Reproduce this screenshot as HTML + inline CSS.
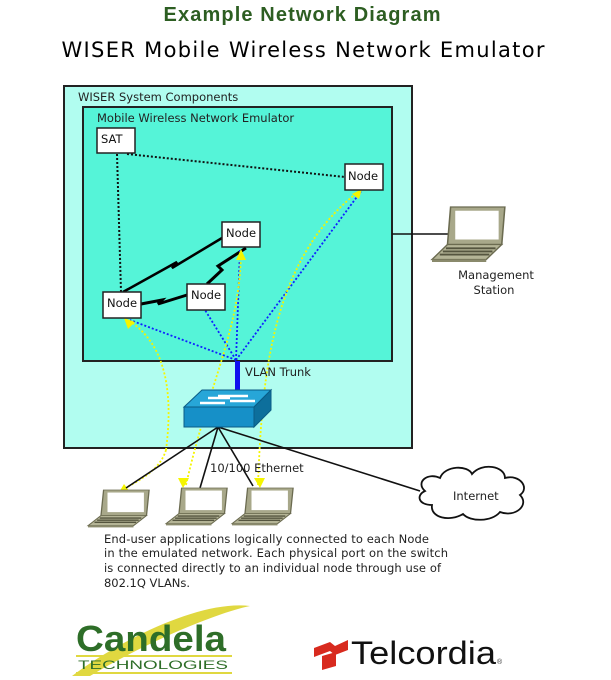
<!DOCTYPE html>
<html><head><meta charset="utf-8"><style>
html,body{margin:0;padding:0;background:#fff;}
svg{display:block;}
</style></head><body>
<svg width="611" height="680" viewBox="0 0 611 680" xmlns="http://www.w3.org/2000/svg">
<defs>
<g id="lap">
  <path d="M12 0 L47 0 L45 30 L10 30 Z" fill="#a8a88a" stroke="#6b6b50" stroke-width="1"/>
  <rect x="15" y="3" width="28" height="23" fill="#fff"/>
  <path d="M10 30 L45 30 L35 42 L0 42 Z" fill="#b4b496" stroke="#6b6b50" stroke-width="1"/>
  <path d="M9 33 L41 33 M7 35.5 L39 35.5 M5 38 L37 38" stroke="#55553f" stroke-width="1.5"/>
  <rect x="0" y="42" width="35" height="2" fill="#8a8a6c"/>
</g>
</defs>
<text x="302" y="21" text-anchor="middle" font-family="Liberation Sans, sans-serif" font-weight="bold" font-size="20" fill="#2d5e22" textLength="277">Example Network Diagram</text>
<text x="303" y="57" text-anchor="middle" font-family="DejaVu Sans, sans-serif" font-size="21" fill="#000" textLength="483">WISER Mobile Wireless Network Emulator</text>

<rect x="64" y="86" width="348" height="362" fill="#b1fdf0" stroke="#222" stroke-width="2"/>
<text x="78" y="101" font-family="DejaVu Sans, sans-serif" font-size="11.5" fill="#222">WISER System Components</text>
<rect x="83" y="107" width="309" height="254" fill="#55f4d8" stroke="#222" stroke-width="2"/>
<text x="97" y="122" font-family="DejaVu Sans, sans-serif" font-size="11.5" fill="#222">Mobile Wireless Network Emulator</text>

<line x1="392" y1="234" x2="452" y2="234" stroke="#111" stroke-width="1.5"/>

<path d="M117 154 L121 292 M127 154 L345 177" stroke="#111" stroke-width="2" stroke-dasharray="2,2" fill="none"/>
<path d="M123 292 L177 262 L172 268 L222 238" stroke="#000" stroke-width="2.5" fill="none"/>
<path d="M141 304 L162 300 L158 304 L187 295" stroke="#000" stroke-width="3" fill="none"/>
<path d="M207 284 L222 270 L218 266 L246 248" stroke="#000" stroke-width="3" fill="none"/>

<g stroke="#1020ff" stroke-width="1.8" stroke-dasharray="2,2" fill="none">
<path d="M236 360 L130 320"/>
<path d="M236 360 L205 310"/>
<path d="M236 360 L240 250"/>
<path d="M236 360 L362 190"/>
</g>
<g stroke="#f5f500" stroke-width="1.8" stroke-dasharray="2,2" fill="none">
<path d="M166 450 C175 380 160 340 128 320"/>
<path d="M186 485 C210 380 240 330 241 252"/>
<path d="M258 485 C262 380 270 260 358 192"/>
<path d="M166 450 C160 470 140 480 122 490"/>
</g>
<g fill="#f5f500">
<path d="M124 318 L135 322 L128 329 Z"/>
<path d="M241 249 L236 260 L246 260 Z"/>
<path d="M362 189 L352 194 L359 199 Z"/>
<path d="M118 494 L124 484 L130 492 Z"/>
<path d="M183 488 L178 478 L189 478 Z"/>
<path d="M260 488 L254 478 L265 478 Z"/>
</g>

<g font-family="DejaVu Sans, sans-serif" font-size="11.5" fill="#111">
<rect x="97" y="128" width="38" height="25" fill="#fff" stroke="#222" stroke-width="1.5"/>
<text x="101" y="143">SAT</text>
<rect x="345" y="164" width="38" height="26" fill="#fff" stroke="#222" stroke-width="1.5"/>
<text x="348" y="180">Node</text>
<rect x="222" y="222" width="38" height="25" fill="#fff" stroke="#222" stroke-width="1.5"/>
<text x="226" y="237">Node</text>
<rect x="187" y="284" width="38" height="26" fill="#fff" stroke="#222" stroke-width="1.5"/>
<text x="191" y="299">Node</text>
<rect x="103" y="292" width="38" height="26" fill="#fff" stroke="#222" stroke-width="1.5"/>
<text x="107" y="307">Node</text>
</g>

<rect x="235" y="361" width="5" height="29" fill="#1010ee"/>
<text x="245" y="376" font-family="DejaVu Sans, sans-serif" font-size="11.5" fill="#222">VLAN Trunk</text>

<g stroke="#111" stroke-width="1.6" fill="none">
<path d="M218 427 L126 488"/>
<path d="M218 427 L200 488"/>
<path d="M218 427 L253 486"/>
<path d="M218 427 L420 491"/>
</g>

<path d="M184 407 L202 390 L271 390 L254 407 Z" fill="#27a6d8" stroke="#0a5c86" stroke-width="1"/>
<rect x="184" y="407" width="70" height="20" fill="#1690c8" stroke="#0a5c86" stroke-width="1"/>
<path d="M254 407 L271 390 L271 410 L254 427 Z" fill="#0d6f9c" stroke="#0a5c86" stroke-width="1"/>
<g stroke="#fff" stroke-width="2.5" fill="none">
<path d="M200 403 L225 403 M218 396 L248 396 M230 401 L255 401 M208 398 L230 398"/>
</g>

<text x="210" y="472" font-family="DejaVu Sans, sans-serif" font-size="11.5" fill="#222">10/100 Ethernet</text>

<path d="M425 491 C415 482 428 472 440 478 C445 465 468 465 472 474 C482 462 505 466 505 478 C520 474 530 488 520 495 C530 505 515 518 500 512 C492 522 470 522 463 514 C450 522 430 518 432 505 C418 505 416 495 425 491 Z" fill="#fff" stroke="#111" stroke-width="1.8"/>
<text x="453" y="500" font-family="DejaVu Sans, sans-serif" font-size="11.5" fill="#222">Internet</text>

<use href="#lap" transform="translate(432,207) scale(1.55,1.25)"/>
<use href="#lap" transform="translate(88,490) scale(1.3,0.85)"/>
<use href="#lap" transform="translate(166,488) scale(1.3,0.85)"/>
<use href="#lap" transform="translate(232,488) scale(1.3,0.85)"/>
<text x="496" y="279" text-anchor="middle" font-family="DejaVu Sans, sans-serif" font-size="11.5" fill="#222">Management</text>
<text x="494" y="294" text-anchor="middle" font-family="DejaVu Sans, sans-serif" font-size="11.5" fill="#222">Station</text>

<g font-family="DejaVu Sans, sans-serif" font-size="11.5" fill="#222">
<text x="104" y="543" textLength="325">End-user applications logically connected to each Node</text>
<text x="104" y="557" textLength="344">in the emulated network.  Each physical port on the switch</text>
<text x="104" y="572" textLength="337">is connected directly to an individual node through use of</text>
<text x="104" y="587" textLength="86">802.1Q VLANs.</text>
</g>

<path d="M72 676 C120 640 200 600 250 606 C220 612 150 640 90 676 Z" fill="#e0d840"/>
<text x="76" y="651" font-family="Liberation Sans, sans-serif" font-weight="bold" font-size="36" fill="#2e6e28" textLength="150" lengthAdjust="spacingAndGlyphs">Candela</text>
<line x1="76" y1="656" x2="232" y2="656" stroke="#e0d840" stroke-width="2"/>
<text x="78" y="669" font-family="Liberation Sans, sans-serif" font-size="12" fill="#2e6e28" textLength="150" lengthAdjust="spacingAndGlyphs">TECHNOLOGIES</text>
<line x1="76" y1="673" x2="232" y2="673" stroke="#e0d840" stroke-width="2"/>

<path d="M314 648 L330 642 L335 646 L348 640 L348 650 L335 655 L330 651 L314 657 Z" fill="#d82a1e"/>
<path d="M322 656 L336 652 L336 666 L322 670 Z" fill="#d82a1e"/>
<text x="351" y="664" font-family="Liberation Sans, sans-serif" font-size="32" fill="#111" textLength="145" lengthAdjust="spacingAndGlyphs">Telcordia</text>
<text x="497" y="664" font-family="Liberation Sans, sans-serif" font-size="7" fill="#333">®</text>
</svg>
</body></html>
